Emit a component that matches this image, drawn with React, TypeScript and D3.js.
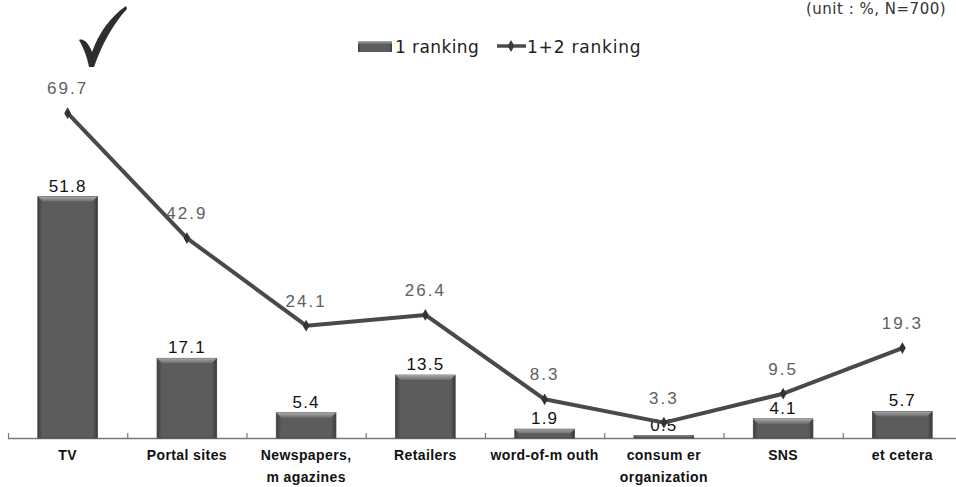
import React from "react";
import * as d3 from "d3";

const categories = ["TV", "Portal sites", "Newspapers,\nm agazines", "Retailers", "word-of-m outh", "consum er\norganization", "SNS", "et cetera"];
const rank1 = [51.8, 17.1, 5.4, 13.5, 1.9, 0.5, 4.1, 5.7];
const rank12 = [69.7, 42.9, 24.1, 26.4, 8.3, 3.3, 9.5, 19.3];
const seriesNames = ["1 ranking", "1+2 ranking"];
const unitNote = "(unit : %,  N=700)";

const W = 956;
const H = 487;
const FONT = "'Liberation Sans', Arial, sans-serif";
const WIDE = "'DejaVu Sans', 'Liberation Sans', sans-serif";

export default function App() {
  const x = d3.scaleBand<string>().domain(categories).range([8, 962]).paddingInner(0).paddingOuter(0);
  const y = d3.scaleLinear().domain([0, 90]).range([438, 438 - 90 * 4.66]);
  const barW = x.bandwidth() * 0.5;
  const cx = (c: string) => (x(c) as number) + x.bandwidth() / 2;

  const line = d3
    .line<number>()
    .x((_, i) => cx(categories[i]))
    .y((d) => y(d));

  const diamond = d3.symbol().type(d3.symbolDiamond).size(40)();

  return (
    <div style={{ position: "absolute", left: 0, top: 0 }}>
      <svg width={W} height={H} style={{ display: "block", background: "#fff" }}>
        <defs>
          <linearGradient id="barFill" x1="0" x2="1" y1="0" y2="0">
            <stop offset="0" stopColor="#3e3e3e" />
            <stop offset="0.08" stopColor="#5c5c5c" />
            <stop offset="0.92" stopColor="#5c5c5c" />
            <stop offset="1" stopColor="#3a3a3a" />
          </linearGradient>
          <linearGradient id="barTop" x1="0" x2="0" y1="0" y2="1">
            <stop offset="0" stopColor="#a8a8a8" />
            <stop offset="1" stopColor="#6a6a6a" />
          </linearGradient>
          <filter id="soft" x="-10%" y="-10%" width="120%" height="120%">
            <feGaussianBlur stdDeviation="0.5" />
          </filter>
        </defs>

        <text x={806} y={14} fontFamily={WIDE} fontSize={15} fill="#333" letterSpacing={0.5}>
          {unitNote}
        </text>

        {/* check mark above the leading category */}
        <path
          d="M79,40 C84,38 89,44 92,52 C99,33 110,17 126,6 L127,9 C113,24 102,44 94,67 L89,67 C87,56 83,47 79,40 Z"
          fill="#2e2e2e"
          filter="url(#soft)"
        />

        {/* legend */}
        <g fontFamily={WIDE} fontSize={17} fill="#222">
          <rect x={358} y={41} width={34} height={11} fill="url(#barFill)" />
          <rect x={358} y={41} width={34} height={3} fill="url(#barTop)" />
          <text x={395} y={53} letterSpacing={0.4}>{seriesNames[0]}</text>
          <line x1={497} x2={526} y1={46} y2={46} stroke="#4a4a4a" strokeWidth={3.5} />
          <path d={diamond as string} transform="translate(511,46)" fill="#3a3a3a" />
          <text x={527} y={53} letterSpacing={0.8}>{seriesNames[1]}</text>
        </g>

        {/* axis */}
        <line x1={8} x2={W} y1={438.5} y2={438.5} stroke="#777" strokeWidth={1.3} />
        {categories.map((c) => (
          <line key={"t" + c} x1={(x(c) as number) + 0.5} x2={(x(c) as number) + 0.5} y1={433} y2={439} stroke="#777" strokeWidth={1.2} />
        ))}

        {/* bars */}
        {rank1.map((v, i) => {
          const c = categories[i];
          const bx = cx(c) - barW / 2;
          const top = y(v);
          const h = y(0) - top;
          const bevel = Math.min(5, h / 2);
          return (
            <g key={"b" + c} filter="url(#soft)">
              <rect x={bx} y={top} width={barW} height={h} fill="url(#barFill)" stroke="#444" strokeWidth={0.8} />
              <path
                d={`M${bx},${top} L${bx + barW},${top} L${bx + barW - bevel},${top + bevel} L${bx + bevel},${top + bevel} Z`}
                fill="url(#barTop)"
              />
            </g>
          );
        })}

        {/* bar values */}
        <g fontFamily={FONT} fontSize={17} fill="#111" textAnchor="middle" letterSpacing={1.2}>
          {rank1.map((v, i) => (
            <text key={"bl" + i} x={cx(categories[i])} y={y(v) - 5}>
              {v.toFixed(1)}
            </text>
          ))}
        </g>

        {/* 1+2 ranking line */}
        <path d={line(rank12) as string} fill="none" stroke="#4a4a4a" strokeWidth={4} strokeLinejoin="round" filter="url(#soft)" />
        {rank12.map((v, i) => (
          <path key={"m" + i} d={diamond as string} transform={`translate(${cx(categories[i])},${y(v)})`} fill="#333" />
        ))}
        <g fontFamily={FONT} fontSize={17} fill="#606060" textAnchor="middle" letterSpacing={2}>
          {rank12.map((v, i) => (
            <text key={"ll" + i} x={cx(categories[i])} y={y(v) - 19}>
              {v.toFixed(1)}
            </text>
          ))}
        </g>

        {/* category labels */}
        <g fontFamily={FONT} fontSize={14} fontWeight="bold" fill="#111" textAnchor="middle" letterSpacing={0.4}>
          {categories.map((c) => (
            <text key={"c" + c} x={cx(c)} y={460}>
              {c.split("\n").map((ln, k) => (
                <tspan key={k} x={cx(c)} dy={k === 0 ? 0 : 22}>
                  {ln}
                </tspan>
              ))}
            </text>
          ))}
        </g>
      </svg>
    </div>
  );
}
